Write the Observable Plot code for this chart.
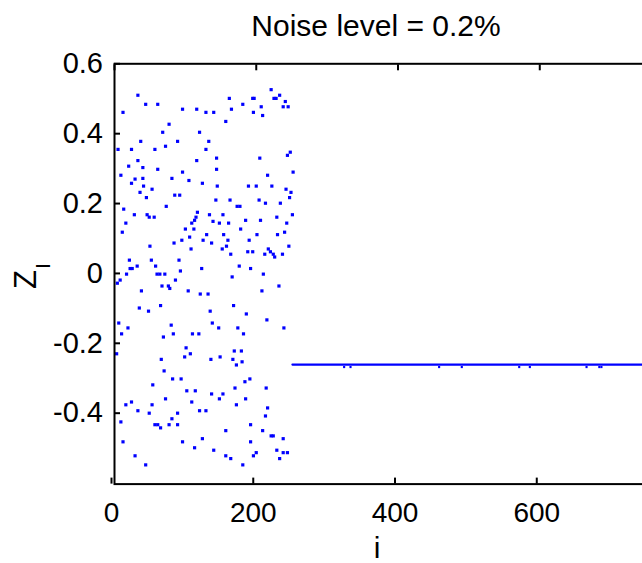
<!DOCTYPE html>
<html><head><meta charset="utf-8">
<script src="https://cdn.jsdelivr.net/npm/d3@7"></script>
<script src="https://cdn.jsdelivr.net/npm/@observablehq/plot@0.6"></script>
<style>
html,body{margin:0;padding:0;background:#fff;overflow:hidden;}
#wrap{width:660px;font-family:"Liberation Sans",Arial,sans-serif;}
#title{width:752px;height:48px;box-sizing:border-box;padding-top:11px;font-size:30px;line-height:30px;text-align:center;color:#000;white-space:nowrap;}
#chart svg{display:block;}
</style></head><body>
<div id="wrap"><div id="title"></div><div id="chart"></div></div>
<script>
const titleText = "Noise level = 0.2%";
const xLabel = "i";
const yLabelMain = "Z";
const yLabelSub = "I";
const xTicks = [0, 200, 400, 600];
const xTickLabels = ["0", "200", "400", "600"];
const yTicks = [-0.4, -0.2, 0, 0.2, 0.4, 0.6];
const yTickLabels = ["-0.4", "-0.2", "0", "0.2", "0.4", "0.6"];
const xDomain = [0, 752];
const yDomain = [-0.603, 0.6];

// scattered estimates, i = 1..~252
const scatterI = [33,44,61,12,96,116,129,140,162,165,181,195,197,207,196,209,221,233,225,228,241,238,245,157,77,68,120,37,89,133,72,5,24,57,129,248,244,144,205,33,116,20,40,61,144,252,9,96,29,40,81,105,216,24,124,41,53,145,189,200,222,242,36,249,85,92,45,143,163,204,247,
234,213,73,173,177,13,117,28,46,49,56,134,153,251,115,229,113,139,185,206,16,109,148,161,243,100,112,178,11,130,154,201,230,240,106,95,125,160,190,84,137,50,158,246,108,152,217,164,188,195,212,220,224,226,237,21,52,91,32,58,176,22,25,93,123,192,17,60,64,71,210,8,86,166,4,67,76,78,232,38,104,208,121,132,65,35,168,48,135,186,215,6,138,80,19,147,174,239,10,83,110,119,182,69,
101,3,107,99,169,179,149,66,136,167,180,172,70,82,94,191,184,54,170,214,102,114,137,153,24,72,148,185,16,53,109,172,216,33,120,129,49,89,213,81,9,57,61,65,77,89,192,157,209,221,224,12,96,124,192,238,113,140,229,29,200,157,196,164,233,238,244,44,181];
const scatterZ = [0.510,0.484,0.484,0.461,0.470,0.470,0.461,0.461,0.501,0.470,0.484,0.501,0.501,0.477,0.461,0.452,0.526,0.510,0.501,0.501,0.492,0.477,0.477,0.435,0.427,0.404,0.404,0.378,0.378,0.378,0.364,0.355,0.355,0.355,0.355,0.347,0.338,0.330,0.330,0.323,0.323,0.307,0.303,0.298,0.298,0.290,0.281,0.290,0.270,0.272,0.272,0.266,0.281,0.258,0.258,0.250,0.241,0.250,0.250,0.250,0.250,0.241,0.232,0.232,0.224,0.224,0.217,0.210,0.210,0.210,0.217,
0.201,0.201,0.192,0.192,0.192,0.184,0.175,0.168,0.168,0.161,0.161,0.168,0.168,0.168,0.161,0.161,0.152,0.149,0.152,0.152,0.144,0.144,0.144,0.144,0.144,0.127,0.127,0.127,0.118,0.111,0.111,0.111,0.111,0.118,0.104,0.095,0.095,0.095,0.095,0.087,0.087,0.078,0.078,0.078,0.070,0.070,0.070,0.055,0.062,0.062,0.055,0.062,0.055,0.047,0.055,0.038,0.038,0.038,0.021,0.021,0.021,0.014,0.014,0.007,0.014,0.014,-0.002,-0.002,-0.002,-0.002,-0.002,-0.019,-0.019,-0.010,-0.028,-0.036,-0.036,-0.043,-0.036,-0.050,-0.050,-0.050,-0.059,-0.059,-0.092,-0.099,-0.092,-0.108,-0.108,-0.116,-0.133,-0.142,-0.142,-0.148,-0.156,-0.156,-0.156,-0.156,-0.173,-0.173,-0.173,-0.173,-0.173,-0.182,
-0.213,-0.230,-0.230,-0.239,-0.222,-0.222,-0.239,-0.246,-0.246,-0.246,-0.253,-0.262,-0.279,-0.302,-0.302,-0.302,-0.310,-0.319,-0.328,-0.328,-0.336,-0.336,-0.345,-0.345,-0.368,-0.359,-0.359,-0.359,-0.376,-0.376,-0.368,-0.376,-0.385,-0.393,-0.393,-0.393,-0.400,-0.400,-0.408,-0.416,-0.425,-0.433,-0.433,-0.442,-0.433,-0.433,-0.433,-0.450,-0.450,-0.465,-0.465,-0.482,-0.482,-0.473,-0.482,-0.473,-0.499,-0.506,-0.506,-0.522,-0.513,-0.522,-0.522,-0.530,-0.530,-0.513,-0.513,-0.548,-0.548];

// converged plateau from i = 251 onward
const plateauI = [251, 752];
const plateauZ = [-0.261, -0.261];
// occasional points just below the plateau
const dipI = [324, 333, 458, 490, 571, 586, 666, 684, 687];
const dipZ = [-0.268, -0.268, -0.268, -0.268, -0.268, -0.268, -0.268, -0.268, -0.268];

document.getElementById("title").textContent = titleText;

const scatter = scatterI.map((i, k) => ({i, z: scatterZ[k]}));
const plateau = plateauI.map((i, k) => ({i, z: plateauZ[k]}));
const dips = dipI.map((i, k) => ({i, z: dipZ[k]}));

const W = 660, H = 515, ML = 114, MR = 13, MT = 15.3, MB = 79.4;
const font = '"Liberation Sans", Arial, sans-serif';

const plot = Plot.plot({
  width: W, height: H,
  marginLeft: ML, marginRight: MR, marginTop: MT, marginBottom: MB,
  x: {domain: xDomain, label: null},
  y: {domain: yDomain, label: null},
  style: {fontFamily: font, background: "white", color: "black"},
  marks: [
    Plot.line(plateau, {x: "i", y: "z", stroke: "#0000ff", strokeWidth: 2.2}),
    Plot.dot(dips, {x: "i", y: "z", symbol: "square", r: 1.2, fill: "#0000ff"}),
    Plot.dot(scatter, {x: "i", y: "z", symbol: "square", r: 1.8, fill: "#0000ff"}),
    Plot.frame({stroke: "black", strokeWidth: 2}),
    Plot.axisX({anchor: "bottom", ticks: xTicks, tickSize: -6, tickPadding: 24, strokeWidth: 2,
      tickFormat: d => xTickLabels[xTicks.indexOf(d)], fontSize: 28, dx: -3, label: null}),
    Plot.axisX({anchor: "top", ticks: xTicks, tickSize: -6, strokeWidth: 2, fill: "none", label: null}),
    Plot.axisY({anchor: "left", ticks: yTicks, tickSize: -6, tickPadding: 17.5, strokeWidth: 2,
      tickFormat: d => yTickLabels[yTicks.indexOf(d)], fontSize: 29, label: null}),
    Plot.axisY({anchor: "right", ticks: yTicks, tickSize: -6, strokeWidth: 2, fill: "none", label: null})
  ]
});

const svg = d3.select(plot);
svg.append("text")
  .attr("x", (ML + (W - MR)) / 2 - 3.5)
  .attr("y", 510)
  .attr("text-anchor", "middle")
  .attr("font-family", font)
  .attr("font-size", 30)
  .attr("fill", "black")
  .text(xLabel);

const yl = svg.append("text")
  .attr("transform", "translate(36,228) rotate(-90)")
  .attr("text-anchor", "middle")
  .attr("font-family", font)
  .attr("fill", "black");
yl.append("tspan").attr("font-size", 31).text(yLabelMain);
yl.append("tspan").attr("font-size", 21).attr("dy", 14).attr("dx", 1).text(yLabelSub);

document.getElementById("chart").appendChild(plot);
</script>
</body></html>
